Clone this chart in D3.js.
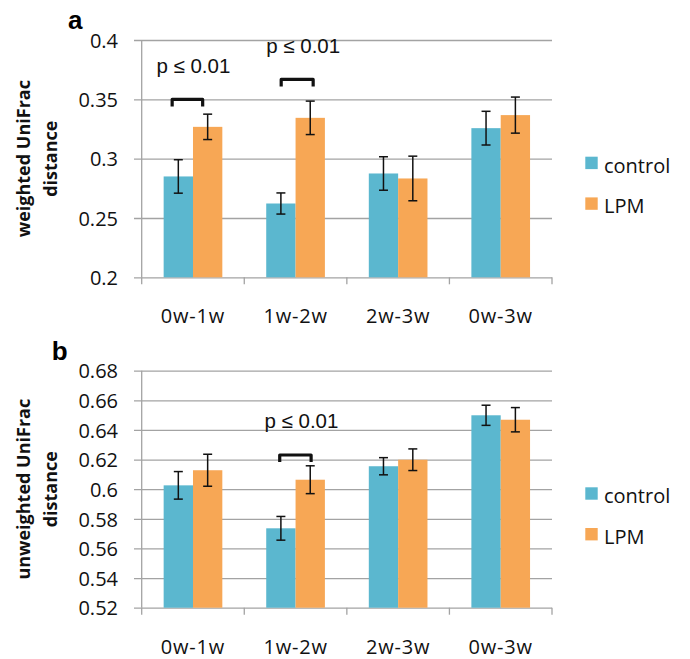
<!DOCTYPE html>
<html><head><meta charset="utf-8">
<script src="https://cdn.jsdelivr.net/npm/d3@7"></script>
<style>body{margin:0;background:#fff} svg{display:block}</style>
</head><body>
<svg id="chart" width="690" height="659"></svg>
<script>
const categories = ["0w-1w", "1w-2w", "2w-3w", "0w-3w"];
const series = ["control", "LPM"];
const seriesColors = ["#5bb7cf", "#f7a755"];

const weightedControl    = [0.2850, 0.2622, 0.2875, 0.3257];
const weightedControlErr = [0.0141, 0.0089, 0.0141, 0.0142];
const weightedLPM        = [0.3268, 0.3344, 0.2833, 0.3367];
const weightedLPMErr     = [0.0107, 0.0141, 0.0188, 0.0152];
const weightedTicks      = [0.2, 0.25, 0.3, 0.35, 0.4];

const unweightedControl    = [0.6026, 0.5736, 0.6155, 0.6499];
const unweightedControlErr = [0.0093, 0.0080, 0.0058, 0.0068];
const unweightedLPM        = [0.6128, 0.6064, 0.6199, 0.6469];
const unweightedLPMErr     = [0.0108, 0.0094, 0.0073, 0.0082];
const unweightedTicks      = [0.52, 0.54, 0.56, 0.58, 0.6, 0.62, 0.64, 0.66, 0.68];

// significance annotations: category, bracket level, text level, bracket start/end as fraction of bar width
const weightedSig   = [
  {cat: "0w-1w", level: 0.3499, textLevel: 0.3724, f0: 0.29, f1: 0.33},
  {cat: "1w-2w", level: 0.3668, textLevel: 0.3888, f0: 0.51, f1: 0.60}
];
const unweightedSig = [
  {cat: "1w-2w", level: 0.6231, textLevel: 0.6411, f0: 0.46, f1: 0.53}
];
const sigLabel = "p ≤ 0.01";

const svg = d3.select("#chart");
const FONT = "'Open Sans', sans-serif";

function panel(o) {
  const x = d3.scaleBand().domain(categories).range([141.7, 552])
    .paddingInner(0.428).paddingOuter(0.214);
  const xs = d3.scaleBand().domain(series).range([0, x.bandwidth()]);
  const y = d3.scaleLinear().domain([o.ticks[0], o.ticks[o.ticks.length - 1]]).range([o.bottom, o.top]);
  const g = svg.append("g");

  // gridlines + y tick labels
  const ax = g.append("g").attr("transform", "translate(134,0)")
    .call(d3.axisLeft(y).tickValues(o.ticks).tickSizeInner(-(552 - 134)).tickSizeOuter(0).tickPadding(16)
      .tickFormat(d => String(+d.toFixed(2))));
  ax.select(".domain").remove();
  ax.selectAll(".tick line").attr("stroke", "#a3a3a3").attr("stroke-width", 1.3);
  ax.selectAll(".tick text").attr("font-family", FONT).attr("font-size", 20).attr("fill", "#111").attr("dy", "0.36em");

  // vertical axis line
  g.append("line").attr("x1", 141.7).attr("x2", 141.7).attr("y1", o.top).attr("y2", o.bottom)
    .attr("stroke", "#a3a3a3").attr("stroke-width", 1.3);

  // category boundary ticks
  const bounds = categories.map(c => x(c) - x.step() * x.paddingInner() / 2).concat([552]);
  g.selectAll(".xtick").data(bounds).join("line")
    .attr("x1", d => d).attr("x2", d => d).attr("y1", o.bottom).attr("y2", o.bottom + 7)
    .attr("stroke", "#a3a3a3").attr("stroke-width", 1.3);

  // x labels
  g.selectAll(".xlab").data(categories).join("text")
    .attr("x", d => x(d) + x.bandwidth() / 2).attr("y", o.bottom + 46)
    .attr("text-anchor", "middle").attr("font-family", FONT).attr("font-size", 20)
    .attr("letter-spacing", "0.8px").attr("fill", "#111").text(d => d);

  // bars
  const data = [];
  categories.forEach((c, i) => {
    data.push({c, s: "control", v: o.control[i], e: o.controlErr[i], col: seriesColors[0]});
    data.push({c, s: "LPM", v: o.lpm[i], e: o.lpmErr[i], col: seriesColors[1]});
  });
  g.selectAll(".bar").data(data).join("rect")
    .attr("x", d => x(d.c) + xs(d.s)).attr("width", xs.bandwidth())
    .attr("y", d => y(d.v)).attr("height", d => o.bottom - y(d.v))
    .attr("fill", d => d.col);

  // error bars
  const eb = g.selectAll(".err").data(data).join("g")
    .attr("transform", d => `translate(${x(d.c) + xs(d.s) + xs.bandwidth() / 2},0)`);
  eb.append("line").attr("y1", d => y(d.v - d.e)).attr("y2", d => y(d.v + d.e)).attr("stroke", "#111").attr("stroke-width", 1.5);
  eb.append("line").attr("x1", -4.5).attr("x2", 4.5).attr("y1", d => y(d.v + d.e)).attr("y2", d => y(d.v + d.e)).attr("stroke", "#111").attr("stroke-width", 1.5);
  eb.append("line").attr("x1", -4.5).attr("x2", 4.5).attr("y1", d => y(d.v - d.e)).attr("y2", d => y(d.v - d.e)).attr("stroke", "#111").attr("stroke-width", 1.5);

  // significance brackets
  o.sig.forEach(s => {
    const bw = xs.bandwidth();
    const x1 = x(s.cat) + xs("control") + s.f0 * bw;
    const x2 = x(s.cat) + xs("LPM") + s.f1 * bw;
    const yb = y(s.level);
    g.append("path").attr("d", `M${x1},${yb + 7}V${yb}H${x2}V${yb + 7}`)
      .attr("fill", "none").attr("stroke", "#111").attr("stroke-width", 3.2).attr("stroke-linejoin", "round");
    g.append("text").attr("x", (x1 + x2) / 2 + 6).attr("y", y(s.textLevel))
      .attr("text-anchor", "middle").attr("font-family", "'Liberation Sans', Arial, sans-serif")
      .attr("font-size", 20.5).attr("fill", "#111").text(sigLabel);
  });

  // y title
  const cy = (o.top + o.bottom) / 2;
  o.title.forEach((t, i) => {
    g.append("text").attr("transform", `translate(${29.5 + i * 27.3},${cy}) rotate(-90)`)
      .attr("text-anchor", "middle").attr("font-family", FONT).attr("font-weight", "bold")
      .attr("font-size", 18).attr("fill", "#111").text(t);
  });

  // panel letter
  g.append("text").attr("x", o.letterX).attr("y", o.letterY)
    .attr("font-family", "'Liberation Sans', Arial, sans-serif").attr("font-weight", "bold")
    .attr("font-size", 26).attr("fill", "#000").text(o.letter);

  // legend
  const lg = g.selectAll(".leg").data(series).join("g")
    .attr("transform", (d, i) => `translate(585.3,${o.legendTop + i * 40.7})`);
  lg.append("rect").attr("width", 12.4).attr("height", 12.4).attr("fill", (d, i) => seriesColors[i]);
  lg.append("text").attr("x", 18.7).attr("y", 16).attr("font-family", FONT).attr("font-size", 20)
    .attr("fill", "#111").text(d => d);
}

panel({
  top: 40, bottom: 277.3, ticks: weightedTicks,
  control: weightedControl, controlErr: weightedControlErr, lpm: weightedLPM, lpmErr: weightedLPMErr,
  sig: weightedSig, title: ["weighted UniFrac", "distance"],
  letter: "a", letterX: 68, letterY: 28.5, legendTop: 156.7
});
panel({
  top: 370.7, bottom: 607.7, ticks: unweightedTicks,
  control: unweightedControl, controlErr: unweightedControlErr, lpm: unweightedLPM, lpmErr: unweightedLPMErr,
  sig: unweightedSig, title: ["unweighted UniFrac", "distance"],
  letter: "b", letterX: 51.7, letterY: 360, legendTop: 487.3
});
</script>
</body></html>
